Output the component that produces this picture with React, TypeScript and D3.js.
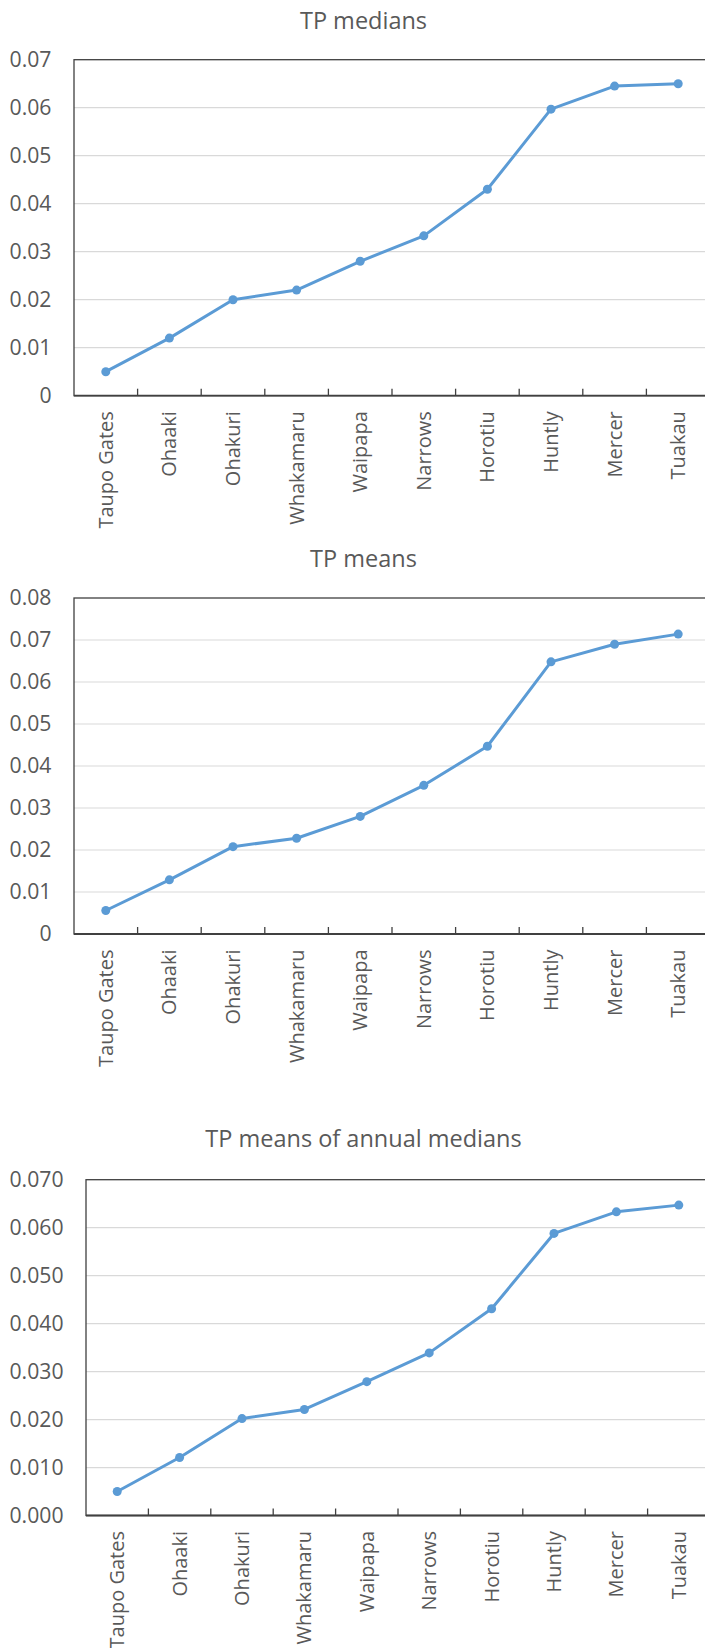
import {useEffect, useRef} from "react";
import * as d3 from "d3";

const sites = ["Taupo Gates", "Ohaaki", "Ohakuri", "Whakamaru", "Waipapa", "Narrows", "Horotiu", "Huntly", "Mercer", "Tuakau"];

const tpMedians = [0.005, 0.012, 0.020, 0.022, 0.028, 0.0333, 0.043, 0.0597, 0.0645, 0.065];
const tpMeans = [0.0056, 0.0129, 0.0208, 0.0228, 0.028, 0.0354, 0.0447, 0.0648, 0.069, 0.0714];
const tpMeansAnnualMedians = [0.005, 0.0121, 0.0202, 0.0221, 0.0279, 0.0339, 0.0431, 0.0588, 0.0633, 0.0647];

const ticks07 = [0, 0.01, 0.02, 0.03, 0.04, 0.05, 0.06, 0.07];
const ticks08 = [0, 0.01, 0.02, 0.03, 0.04, 0.05, 0.06, 0.07, 0.08];
const tickLabels07 = ["0", "0.01", "0.02", "0.03", "0.04", "0.05", "0.06", "0.07"];
const tickLabels08 = ["0", "0.01", "0.02", "0.03", "0.04", "0.05", "0.06", "0.07", "0.08"];
const tickLabels07x3 = ["0.000", "0.010", "0.020", "0.030", "0.040", "0.050", "0.060", "0.070"];

const FONT = "'Open Sans', 'DejaVu Sans', sans-serif";
const TEXT = "#595959";
const BLUE = "#5B9BD5";

interface ChartCfg {
    title: string;
    values: number[];
    ticks: number[];
    tickLabels: string[];
    top: number;
    bottom: number;
    left: number;
    titleY: number;
}

export default function App() {
    const ref = useRef<SVGSVGElement>(null);

    useEffect(() => {
        if (!ref.current) return;
        const width = 705;
        const height = 1648;
        const right = 710; // plot runs off the right edge, as in the picture

        const svg = d3.select(ref.current)
            .attr("width", width)
            .attr("height", height);
        svg.selectAll("*").remove();

        const charts: ChartCfg[] = [
            {title: "TP medians", values: tpMedians, ticks: ticks07, tickLabels: tickLabels07, top: 59.7, bottom: 395.7, left: 74, titleY: 28.7},
            {title: "TP means", values: tpMeans, ticks: ticks08, tickLabels: tickLabels08, top: 598, bottom: 934, left: 74, titleY: 566.7},
            {title: "TP means of annual medians", values: tpMeansAnnualMedians, ticks: ticks07, tickLabels: tickLabels07x3, top: 1179.7, bottom: 1515.5, left: 86, titleY: 1146.7},
        ];

        for (const c of charts) {
            const g = svg.append("g");

            const x = d3.scaleBand<string>()
                .domain(sites)
                .range([c.left, right]);

            const y = d3.scaleLinear()
                .domain([0, c.ticks[c.ticks.length - 1]])
                .range([c.bottom, c.top]);

            // title
            g.append("text")
                .attr("x", 363.5)
                .attr("y", c.titleY)
                .attr("text-anchor", "middle")
                .attr("font-family", FONT)
                .attr("font-size", 23.5)
                .attr("fill", TEXT)
                .text(c.title);

            // gridlines
            g.append("g")
                .selectAll("line")
                .data(c.ticks.slice(1, -1))
                .join("line")
                .attr("x1", c.left)
                .attr("x2", right)
                .attr("y1", d => y(d))
                .attr("y2", d => y(d))
                .attr("stroke", "#d9d9d9")
                .attr("stroke-width", 1.2);

            // plot border
            g.append("rect")
                .attr("x", c.left)
                .attr("y", c.top)
                .attr("width", right - c.left)
                .attr("height", c.bottom - c.top)
                .attr("fill", "none")
                .attr("stroke", "#404040")
                .attr("stroke-width", 1.3);

            // y tick labels
            g.append("g")
                .selectAll("text")
                .data(c.ticks)
                .join("text")
                .attr("x", c.left - 22.5)
                .attr("y", d => y(d))
                .attr("dy", "0.35em")
                .attr("text-anchor", "end")
                .attr("font-family", FONT)
                .attr("font-size", 21.2)
                .attr("fill", TEXT)
                .text((d, i) => c.tickLabels[i]);

            // category axis, ticks pointing in
            g.append("line")
                .attr("x1", c.left)
                .attr("x2", right)
                .attr("y1", c.bottom)
                .attr("y2", c.bottom)
                .attr("stroke", "#404040")
                .attr("stroke-width", 1.8);

            g.append("g")
                .selectAll("line")
                .data(sites.slice(1))
                .join("line")
                .attr("x1", d => x(d)!)
                .attr("x2", d => x(d)!)
                .attr("y1", c.bottom)
                .attr("y2", c.bottom - 7)
                .attr("stroke", "#404040")
                .attr("stroke-width", 1.3);

            g.append("g")
                .selectAll("text")
                .data(sites)
                .join("text")
                .attr("transform", d => `translate(${x(d)! + x.bandwidth() / 2},${c.bottom + 15.5}) rotate(-90)`)
                .attr("dy", "0.35em")
                .attr("text-anchor", "end")
                .attr("font-family", FONT)
                .attr("font-size", 20)
                .attr("fill", TEXT)
                .text(d => d);

            // series
            const line = d3.line<number>()
                .x((d, i) => x(sites[i])! + x.bandwidth() / 2)
                .y(d => y(d));

            g.append("path")
                .datum(c.values)
                .attr("d", line)
                .attr("fill", "none")
                .attr("stroke", BLUE)
                .attr("stroke-width", 3)
                .attr("stroke-linejoin", "round");

            g.append("g")
                .selectAll("circle")
                .data(c.values)
                .join("circle")
                .attr("cx", (d, i) => x(sites[i])! + x.bandwidth() / 2)
                .attr("cy", d => y(d))
                .attr("r", 4.5)
                .attr("fill", BLUE);
        }
    }, []);

    return (
        <svg ref={ref} style={{position: "absolute", left: 0, top: 0, overflow: "hidden", background: "#fff"}}/>
    );
}
